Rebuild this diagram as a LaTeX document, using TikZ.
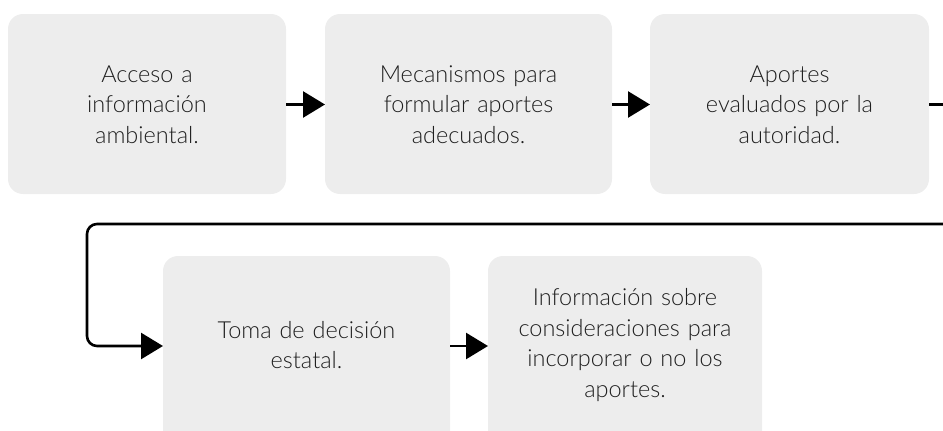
\documentclass[tikz,border=0pt]{standalone}
\usepackage{fontspec}
\setmainfont{Lato Light}
\usetikzlibrary{arrows.meta}
\definecolor{boxgray}{HTML}{EDEDED}
\definecolor{txt}{HTML}{1E1E1E}
\tikzset{
  stepbox/.style={fill=boxgray, draw=none, rounded corners=15pt},
  lbl/.style={align=center, text=txt, font=\fontsize{23.5}{30.5}\selectfont, text width=260pt},
  conn/.style={line width=2.6pt, -{Triangle[length=22pt,width=26pt]}},
}
\begin{document}
\begin{tikzpicture}[x=1pt,y=-1pt]
\useasboundingbox (0,0) rectangle (943,431);
\clip (0,0) rectangle (943,431);
% boxes
\path[stepbox] (8,14) rectangle (286,194);
\path[stepbox] (325,14) rectangle (612,194);
\path[stepbox] (650,14) rectangle (929,194);
\path[stepbox] (163,256) rectangle (450,450);
\path[stepbox] (488,256) rectangle (762,450);
% named anchors
\coordinate (b1e) at (286,104.5);
\coordinate (b2w) at (325,104.5);
\coordinate (b2e) at (612,104.5);
\coordinate (b3w) at (650,104.5);
\coordinate (b3e) at (929,104.5);
\coordinate (b4w) at (163,346);
\coordinate (b4e) at (450,346);
\coordinate (b5w) at (488,346);
\coordinate (off) at (955,104.5);
% labels
\node[lbl] (t1) at (147,104.5) {Acceso a\\información\\ambiental.};
\node[lbl] (t2) at (468.5,104.5) {Mecanismos para\\formular aportes\\adecuados.};
\node[lbl] (t3) at (789.5,104.5) {Aportes\\evaluados por la\\autoridad.};
\node[lbl] (t4) at (306.5,345) {Toma de decisión\\estatal.};
\node[lbl] (t5) at (625,345) {Información sobre\\consideraciones para\\incorporar o no los\\aportes.};
% connectors
\draw[conn] (b1e) -- (b2w);
\draw[conn] (b2e) -- (b3w);
\draw[conn] (b4e) -- (b5w);
\draw[conn, rounded corners=10pt] (b3e) -- (off) |- (87,224) |- (b4w);
\end{tikzpicture}
\end{document}
